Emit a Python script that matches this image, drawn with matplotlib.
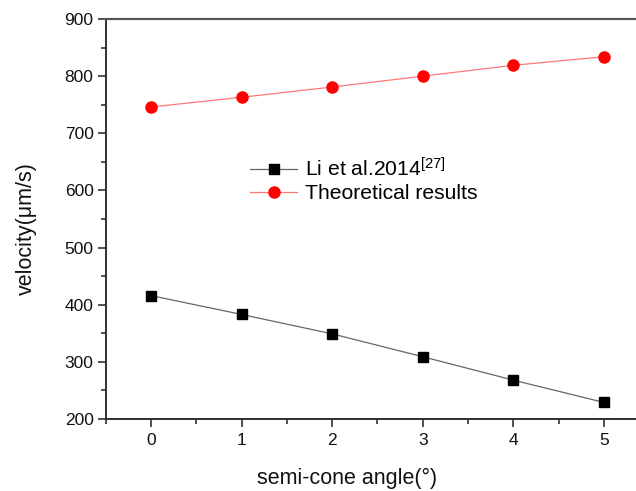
import matplotlib.pyplot as plt
from matplotlib.ticker import FixedLocator, MultipleLocator

plt.rcParams['font.family'] = ['Liberation Sans', 'DejaVu Sans']
plt.rcParams['mathtext.fontset'] = 'custom'
plt.rcParams['mathtext.rm'] = 'Liberation Sans'
plt.rcParams['mathtext.it'] = 'Liberation Sans'

angles = [0, 1, 2, 3, 4, 5]
li_2014 = [416, 383, 349, 309, 268, 229]
theoretical = [746, 763, 781, 800, 819, 834]


def main():
    fig = plt.figure(figsize=(6.36, 4.91), dpi=100)
    # right end of the x axis runs past the edge of the picture, as in the original
    ax = fig.add_axes([0.1662, 0.1466, 0.8547, 0.8147])

    ax.plot(angles, li_2014, color='#666666', lw=0.9, marker='s', ms=6.8,
            mfc='black', mec='black', label='Li et al.2014$^{[27]}$')
    ax.plot(angles, theoretical, color='#ff7777', lw=0.9, marker='o', ms=8,
            mfc='red', mec='red', label='Theoretical results')

    ax.set_xlim(-0.5, 5.5)
    ax.set_ylim(200, 900)
    ax.set_xticks(angles)
    ax.xaxis.set_minor_locator(FixedLocator([-0.5, 0.5, 1.5, 2.5, 3.5, 4.5, 5.5]))
    ax.yaxis.set_major_locator(MultipleLocator(100))
    ax.yaxis.set_minor_locator(MultipleLocator(50))

    for side in ['left', 'bottom']:
        ax.spines[side].set_color('#222222')
        ax.spines[side].set_linewidth(1.3)
    ax.spines['top'].set_color('#555555')
    ax.spines['top'].set_linewidth(1.6)
    ax.spines['right'].set_visible(False)
    ax.tick_params(which='major', length=5.5, width=1.1, color='#222222',
                   labelsize=12.5, direction='out', labelcolor='#111111')
    ax.tick_params(axis='x', which='major', pad=4.8)
    ax.tick_params(axis='y', which='major', pad=3.2)
    ax.tick_params(which='minor', length=3.5, width=1.1, color='#222222', direction='out')

    ax.set_xlabel('semi-cone angle(°)', fontsize=15.5, color='#111111')
    ax.set_ylabel('velocity(μm/s)', fontsize=15.5, color='#111111')
    ax.xaxis.set_label_coords(0.444, -0.1225)
    ax.yaxis.set_label_coords(-0.126, 0.476)

    ax.legend(loc='upper left', bbox_to_anchor=(0.2655, 0.655), frameon=False,
              fontsize=15.2, handlelength=2.23, handletextpad=0.38,
              labelspacing=0.2, borderpad=0, borderaxespad=0)

    plt.savefig('out.png', dpi=100)


if __name__ == '__main__':
    main()
